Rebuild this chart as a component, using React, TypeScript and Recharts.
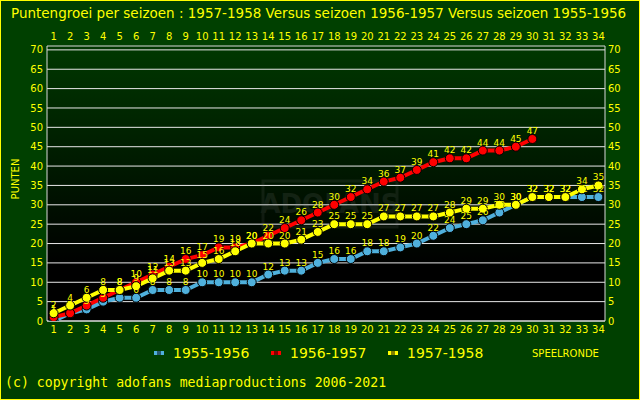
import React from "react"
import {
  LineChart,
  Line,
  XAxis,
  YAxis,
  CartesianGrid,
  ReferenceArea,
  LabelList,
} from "recharts"

const rounds = [
  1, 2, 3, 4, 5, 6, 7, 8, 9, 10, 11, 12, 13, 14, 15, 16, 17, 18, 19, 20, 21, 22, 23, 24, 25, 26, 27, 28, 29, 30, 31, 32,
  33, 34,
]
const s1955 = [
  0, 2, 3, 5, 6, 6, 8, 8, 8, 10, 10, 10, 10, 12, 13, 13, 15, 16, 16, 18, 18, 19, 20, 22, 24, 25, 26, 28, 30, 32, 32, 32,
  32, 32,
]
const s1956 = [
  1, 2, 4, 6, 8, 10, 12, 14, 16, 17, 19, 19, 20, 22, 24, 26, 28, 30, 32, 34, 36, 37, 39, 41, 42, 42, 44, 44, 45, 47,
]
const s1957 = [
  2, 4, 6, 8, 8, 9, 11, 13, 13, 15, 16, 18, 20, 20, 20, 21, 23, 25, 25, 25, 27, 27, 27, 27, 28, 29, 29, 30, 30, 32, 32,
  32, 34, 35,
]
const yTicks = [0, 5, 10, 15, 20, 25, 30, 35, 40, 45, 50, 55, 60, 65, 70]

const title = "Puntengroei per seizoen : 1957-1958 Versus seizoen 1956-1957 Versus seizoen 1955-1956"
const series = [
  { key: "a", name: "1955-1956", color: "#4fb0dc" },
  { key: "b", name: "1956-1957", color: "#ff0000" },
  { key: "c", name: "1957-1958", color: "#ffff00" },
]

const data = rounds.map((r, i) => ({
  r,
  a: s1955[i] ?? null,
  b: s1956[i] ?? null,
  c: s1957[i] ?? null,
}))

const YELLOW = "#ffff00"
const tickStyle = { fill: YELLOW, fontSize: 10, fontFamily: "DejaVu Sans" }

export default function App() {
  return (
    <div
      style={{
        position: "absolute",
        left: 0,
        top: 0,
        width: 640,
        height: 400,
        boxSizing: "border-box",
        border: "1px solid #ffff00",
        background: "#004000",
        overflow: "hidden",
        fontFamily: "DejaVu Sans",
      }}
    >
      <div style={{ position: "absolute", left: 0, top: 0 }}>
        <LineChart width={640} height={400} data={data} margin={{ top: 0, right: 0, bottom: 0, left: 0 }}>
          <defs>
            <linearGradient id="plotBg" x1="0" y1="0" x2="0" y2="1">
              <stop offset="0%" stopColor="#003800" />
              <stop offset="80%" stopColor="#000000" />
              <stop offset="100%" stopColor="#000000" />
            </linearGradient>
          </defs>
          <CartesianGrid
            yAxisId="left"
            xAxisId="bottom"
            vertical={false}
            stroke="#e8e8e8"
            fill="url(#plotBg)"
            fillOpacity={1}
            horizontalValues={yTicks}
          />
          {/* faint watermark */}
          <g opacity={0.12}>
            <rect x={262} y={180} width={134} height={46} fill="none" stroke="#8a8a8a" strokeWidth={3} />
            <text x={329} y={212} textAnchor="middle" fill="#9a9a9a" fontSize={26} fontWeight="bold" fontFamily="DejaVu Sans">
              ADOFANS
            </text>
          </g>
          <XAxis
            xAxisId="top"
            orientation="top"
            dataKey="r"
            type="number"
            domain={[0.6, 34.4]}
            ticks={rounds}
            interval={0}
            height={45}
            tickLine={false}
            axisLine={false}
            tickSize={6}
            tickMargin={0}
            tick={tickStyle}
            allowDataOverflow
          />
          <XAxis
            xAxisId="bottom"
            orientation="bottom"
            dataKey="r"
            type="number"
            domain={[0.6, 34.4]}
            ticks={rounds}
            interval={0}
            height={80}
            tickLine={false}
            axisLine={false}
            tickSize={5}
            tickMargin={0}
            tick={tickStyle}
            allowDataOverflow
          />
          <YAxis
            yAxisId="left"
            orientation="left"
            domain={[0, 71]}
            ticks={yTicks}
            interval={0}
            width={46}
            tickLine={false}
            axisLine={false}
            tickSize={4}
            tickMargin={0}
            tick={tickStyle}
            allowDataOverflow
          />
          <YAxis
            yAxisId="right"
            orientation="right"
            domain={[0, 71]}
            ticks={yTicks}
            interval={0}
            width={36}
            tickLine={false}
            axisLine={false}
            tickSize={3}
            tickMargin={0}
            tick={tickStyle}
            allowDataOverflow
          />
          <ReferenceArea
            xAxisId="bottom"
            yAxisId="left"
            x1={0.6}
            x2={34.4}
            y1={0}
            y2={71}
            fill="none"
            stroke="#d8d8d8"
            strokeWidth={1}
            ifOverflow="extendDomain"
          />
          {series.map((s) => (
            <Line
              key={s.key}
              xAxisId="bottom"
              yAxisId="left"
              dataKey={s.key}
              stroke={s.color}
              strokeWidth={4}
              dot={{ r: 4.5, fill: s.color, stroke: "#000", strokeWidth: 1 }}
              activeDot={false}
              connectNulls={false}
              isAnimationActive={false}
            >
              <LabelList
                dataKey={s.key}
                position="top"
                offset={5}
                fill={YELLOW}
                fontSize={9}
                fontFamily="DejaVu Sans"
              />
            </Line>
          ))}
        </LineChart>
      </div>

      <div style={{ position: "absolute", left: 10, top: 4, color: YELLOW, fontSize: 13.5, whiteSpace: "nowrap" }}>
        {title}
      </div>

      <div
        style={{
          position: "absolute",
          left: 14,
          top: 178,
          color: YELLOW,
          fontSize: 10,
          transform: "translate(-50%, -50%) rotate(-90deg)",
          whiteSpace: "nowrap",
        }}
      >
        PUNTEN
      </div>

      {series.map((s, i) => (
        <div
          key={s.key}
          style={{
            position: "absolute",
            left: 153 + i * 117,
            top: 344,
            display: "flex",
            alignItems: "center",
            color: YELLOW,
            fontSize: 14,
            whiteSpace: "nowrap",
          }}
        >
          <span
            style={{
              display: "inline-block",
              width: 10,
              height: 4,
              background: s.color,
              marginRight: 9,
              position: "relative",
            }}
          >
            <span
              style={{
                position: "absolute",
                left: 3,
                top: 0,
                width: 4,
                height: 4,
                background: "#000",
                opacity: 0.5,
              }}
            />
          </span>
          {s.name}
        </div>
      ))}

      <div style={{ position: "absolute", left: 531, top: 347, color: YELLOW, fontSize: 10, whiteSpace: "nowrap" }}>
        SPEELRONDE
      </div>

      <div
        style={{
          position: "absolute",
          left: 4,
          top: 374,
          color: YELLOW,
          fontSize: 13.2,
          fontFamily: "DejaVu Sans Mono",
          whiteSpace: "nowrap",
        }}
      >
        (c) copyright adofans mediaproductions 2006-2021
      </div>
    </div>
  )
}
